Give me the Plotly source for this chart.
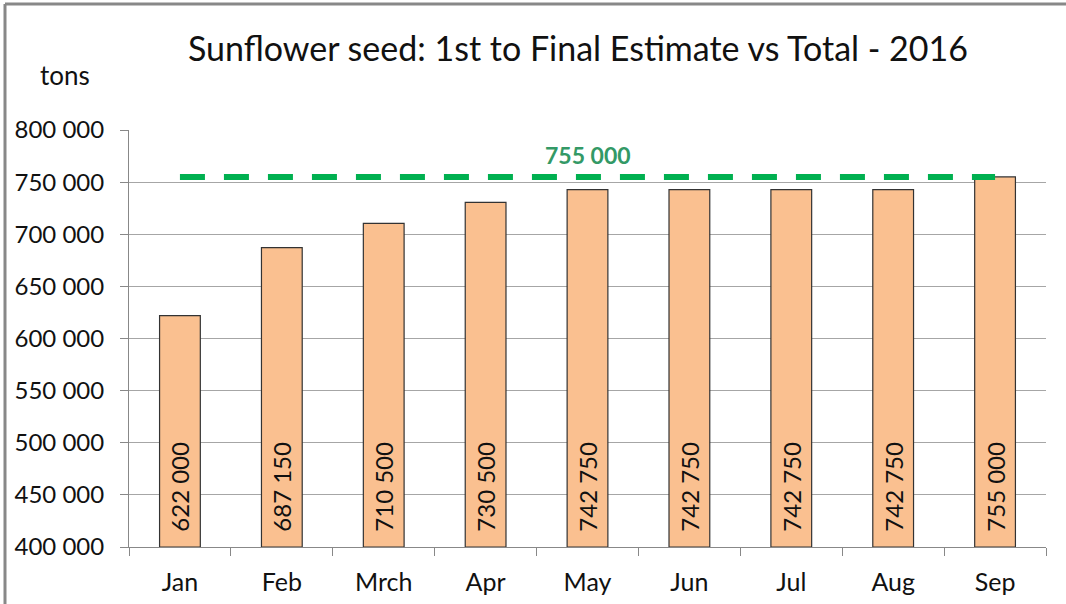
import plotly.graph_objects as go

FONT = "Lato, Calibri, Arial, sans-serif"

months = ["Jan", "Feb", "Mrch", "Apr", "May", "Jun", "Jul", "Aug", "Sep"]
estimates = [622000, 687150, 710500, 730500, 742750, 742750, 742750, 742750, 755000]
final_total = 755000
y_floor = 400000
y_ticks = [400000, 450000, 500000, 550000, 600000, 650000, 700000, 750000, 800000]

W, H = 1066, 604
L, R, T, B = 129, 20, 130, 57
pw, ph = W - L - R, H - T - B

fig = go.Figure()
# bars start at the axis floor so the value labels sit at the visible bottom
fig.add_trace(go.Bar(
    x=months,
    y=[v - y_floor for v in estimates],
    base=y_floor,
    customdata=estimates,
    width=0.4,
    marker=dict(color="#FAC090", line=dict(color="#333333", width=1.2)),
    texttemplate="\u00a0\u00a0%{customdata:,}",
    textposition="inside",
    insidetextanchor="start",
    textangle=-90,
    insidetextfont=dict(family=FONT, size=24, color="#111111"),
    constraintext="none",
    hoverinfo="skip",
))
fig.add_trace(go.Scatter(
    x=months,
    y=[final_total] * len(months),
    mode="lines",
    line=dict(color="#00B050", width=6, dash="25px,19px"),
    hoverinfo="skip",
))

fig.add_annotation(
    x="May", y=final_total, text="<b>755 000</b>", showarrow=False,
    yshift=22, font=dict(family=FONT, size=23, color="#339966"),
)
fig.add_annotation(
    xref="paper", yref="paper", x=(578 - L) / pw, y=1 + (T - 48) / ph,
    text="Sunflower seed: 1st to Final Estimate vs Total - 2016", showarrow=False,
    xanchor="center", yanchor="middle", font=dict(family=FONT, size=34, color="#111111"),
)
fig.add_annotation(
    xref="paper", yref="paper", x=(65 - L) / pw, y=1 + (T - 75) / ph,
    text="tons", showarrow=False, xanchor="center", yanchor="middle",
    font=dict(family=FONT, size=26, color="#111111"),
)

# chart frame (left and top edges)
fig.add_shape(type="line", xref="paper", yref="paper",
              x0=(5 - L) / pw, x1=(5 - L) / pw, y0=-B / ph, y1=1 + (T - 4) / ph,
              line=dict(color="#888888", width=3))
fig.add_shape(type="line", xref="paper", yref="paper",
              x0=(5 - L) / pw, x1=1 + R / pw, y0=1 + (T - 4) / ph, y1=1 + (T - 4) / ph,
              line=dict(color="#888888", width=3))

fig.update_layout(
    width=W, height=H,
    margin=dict(l=L, r=R, t=T, b=B),
    paper_bgcolor="white", plot_bgcolor="white",
    font=dict(family=FONT, size=24, color="#111111"),
    separators=". ",
    showlegend=False,
    bargap=0.6,
    xaxis=dict(
        showline=True, linecolor="#888888", linewidth=1,
        ticks="outside", tickson="boundaries", ticklen=8, tickcolor="#888888",
        showgrid=False, tickfont=dict(size=25), ticklabelstandoff=13,
        automargin=False,
    ),
    yaxis=dict(
        range=[400000, 800000], tickvals=y_ticks, tickformat=",d",
        showline=True, linecolor="#888888", linewidth=1,
        ticks="outside", ticklen=8, tickcolor="#888888",
        showgrid=True, gridcolor="#A6A6A6", gridwidth=1,
        tickfont=dict(size=24), ticklabelstandoff=11, zeroline=False,
        automargin=False,
    ),
)

fig.write_html(
    "out.html",
    config={"displayModeBar": False},
    post_script="document.body.style.margin='0';document.body.style.overflow='hidden';",
)
